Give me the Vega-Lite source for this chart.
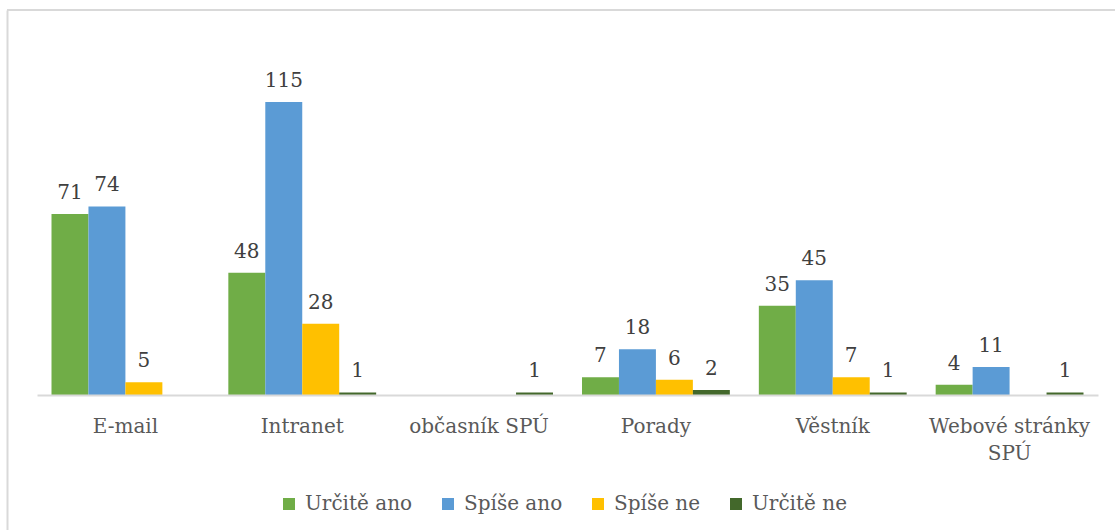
{
  "$schema": "https://vega.github.io/schema/vega-lite/v6.json",
  "width": 1108,
  "height": 520,
  "autosize": {"type": "none"},
  "padding": {"left": 7, "top": 10, "right": 0, "bottom": 0},
  "background": "white",
  "config": {"view": {"stroke": null}, "font": "DejaVu Serif"},
  "data": {
    "values": [
      {"kanal": "E-mail", "odpoved": "Určitě ano", "pocet": 71},
      {"kanal": "E-mail", "odpoved": "Spíše ano", "pocet": 74},
      {"kanal": "E-mail", "odpoved": "Spíše ne", "pocet": 5},
      {"kanal": "Intranet", "odpoved": "Určitě ano", "pocet": 48},
      {"kanal": "Intranet", "odpoved": "Spíše ano", "pocet": 115},
      {"kanal": "Intranet", "odpoved": "Spíše ne", "pocet": 28},
      {"kanal": "Intranet", "odpoved": "Určitě ne", "pocet": 1},
      {"kanal": "občasník SPÚ", "odpoved": "Určitě ne", "pocet": 1},
      {"kanal": "Porady", "odpoved": "Určitě ano", "pocet": 7},
      {"kanal": "Porady", "odpoved": "Spíše ano", "pocet": 18},
      {"kanal": "Porady", "odpoved": "Spíše ne", "pocet": 6},
      {"kanal": "Porady", "odpoved": "Určitě ne", "pocet": 2},
      {"kanal": "Věstník", "odpoved": "Určitě ano", "pocet": 35},
      {"kanal": "Věstník", "odpoved": "Spíše ano", "pocet": 45},
      {"kanal": "Věstník", "odpoved": "Spíše ne", "pocet": 7},
      {"kanal": "Věstník", "odpoved": "Určitě ne", "pocet": 1},
      {"kanal": "Webové stránky SPÚ", "odpoved": "Určitě ano", "pocet": 4},
      {"kanal": "Webové stránky SPÚ", "odpoved": "Spíše ano", "pocet": 11},
      {"kanal": "Webové stránky SPÚ", "odpoved": "Určitě ne", "pocet": 1}
    ]
  },
  "layer": [
    {
      "data": {"values": [{"okraj": 151.1}]},
      "mark": {"type": "rule", "color": "#D9D9D9", "strokeWidth": 2},
      "encoding": {"y": {"field": "okraj", "type": "quantitative"}}
    },
    {
      "mark": {"type": "bar"},
      "encoding": {
        "x": {
          "field": "kanal",
          "type": "nominal",
          "scale": {
            "domain": ["E-mail", "Intranet", "občasník SPÚ", "Porady", "Věstník", "Webové stránky SPÚ"],
            "range": [30, 1091],
            "paddingInner": 0.164,
            "paddingOuter": 0.082
          },
          "axis": {
            "title": null,
            "orient": "bottom",
            "offset": -135,
            "domainColor": "#D9D9D9",
            "domainWidth": 2,
            "ticks": false,
            "tickSize": 0,
            "labelPadding": 21,
            "labelFontSize": 20,
            "labelColor": "#595959",
            "labelFont": "DejaVu Serif",
            "labelAngle": 0,
            "labelLineHeight": 27,
            "labelLimit": 400,
            "labelOverlap": false,
            "labelExpr": "datum.value == 'Webové stránky SPÚ' ? ['Webové stránky', 'SPÚ'] : datum.value",
            "zindex": 1
          }
        },
        "xOffset": {
          "field": "odpoved",
          "type": "nominal",
          "scale": {
            "domain": ["Určitě ano", "Spíše ano", "Spíše ne", "Určitě ne"],
            "paddingInner": 0,
            "paddingOuter": 0
          }
        },
        "y": {
          "field": "pocet",
          "type": "quantitative",
          "scale": {"domain": [-52.98, 151.1], "nice": false, "zero": false},
          "axis": {
            "title": null,
            "labels": false,
            "ticks": false,
            "grid": false,
            "domainColor": "#D9D9D9",
            "domainWidth": 2
          }
        },
        "y2": {"datum": 0},
        "color": {
          "field": "odpoved",
          "type": "nominal",
          "scale": {
            "domain": ["Určitě ano", "Spíše ano", "Spíše ne", "Určitě ne"],
            "range": ["#70AD47", "#5B9BD5", "#FFC000", "#43682B"]
          },
          "legend": {
            "orient": "none",
            "legendX": 272,
            "legendY": 484,
            "direction": "horizontal",
            "title": null,
            "symbolType": "square",
            "symbolSize": 144,
            "symbolStrokeWidth": 0,
            "labelFontSize": 20,
            "labelColor": "#595959",
            "labelFont": "DejaVu Serif",
            "columnPadding": 25,
            "labelOffset": 6,
            "padding": 0
          }
        }
      }
    },
    {
      "mark": {
        "type": "text",
        "dy": -15,
        "baseline": "alphabetic",
        "align": "center",
        "fontSize": 20,
        "font": "DejaVu Serif",
        "color": "#404040"
      },
      "encoding": {
        "x": {"field": "kanal", "type": "nominal"},
        "xOffset": {"field": "odpoved", "type": "nominal"},
        "y": {"field": "pocet", "type": "quantitative"},
        "text": {"field": "pocet", "type": "quantitative"}
      }
    }
  ]
}
